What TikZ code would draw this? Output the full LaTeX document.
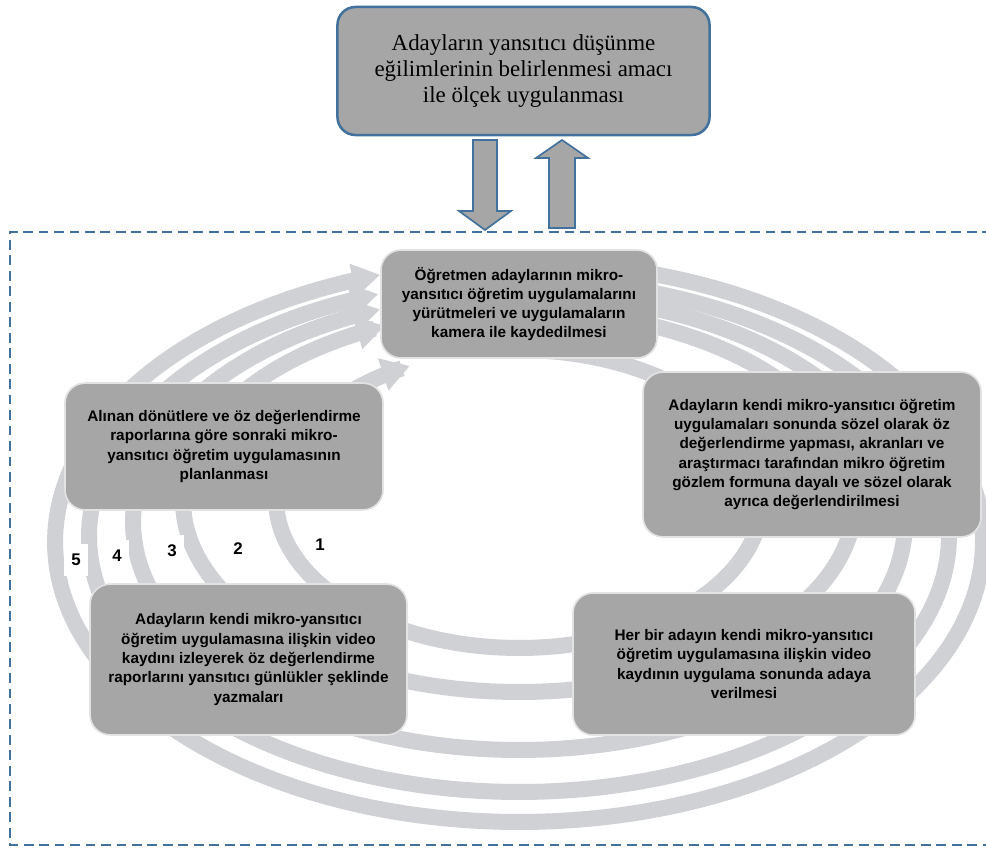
\documentclass[tikz,border=0pt]{standalone}
\usepackage{fontspec}
\setmainfont{Liberation Serif}
\newfontfamily\kutufont{Liberation Sans}
\usetikzlibrary{arrows.meta}
\definecolor{kutugri}{RGB}{166,166,166}
\definecolor{halka}{RGB}{208,209,213}
\definecolor{cerceve}{RGB}{65,113,156}
\definecolor{kenar}{RGB}{226,226,226}

\begin{document}
\begin{tikzpicture}[x=0.025cm, y=-0.025cm,
  adim/.style={draw=kenar, line width=1.2pt, fill=kutugri,
    rounded corners=0.5cm, align=center, inner sep=2pt,
    font=\kutufont\bfseries\fontsize{10.9}{13.7}\selectfont},
  halkaok/.style={draw=halka, line width=0.4cm,
    -{Triangle[length=0.7cm, width=0.8cm]}},
  sayi/.style={fill=white, inner xsep=5pt, inner ysep=7pt,
    font=\kutufont\bfseries\fontsize{12}{14}\selectfont},
  blokok/.style={draw=cerceve, line width=1.2pt, fill=kutugri}]
\useasboundingbox (0,0) rectangle (986,848);
% Dashed frame
\draw[cerceve, line width=1pt, dash pattern=on 7pt off 4pt]
  (992,232) -- (10,232) -- (10,845) -- (992,845);
% Rings: center x/y, radii, start/end angle
\foreach \cx/\cy/\rx/\ry/\s/\e in {519/542/464/280/285/612.6,
    519/536/430/256/285/610.9, 519/522/386/228/285/608.9,
    519/501/336/191/290/606.5, 519/499/243/149/275/603.3}
  \draw[halkaok] plot[domain=\s:\e, samples=160]
    ({\cx+\rx*cos(\x)}, {\cy+\ry*sin(\x)});
% Steps
\node[adim, minimum width=6.9cm, minimum height=2.7cm] (kayit) at (519,304)
  {Öğretmen adaylarının mikro-\\yansıtıcı öğretim uygulamalarını\\
   yürütmeleri ve uygulamaların\\kamera ile kaydedilmesi};
\node[adim, minimum width=8.45cm, minimum height=4.12cm] (degerlendirme) at (812,454.5)
  {Adayların kendi mikro-yansıtıcı öğretim\\uygulamaları sonunda sözel olarak öz\\
   değerlendirme yapması, akranları ve\\araştırmacı tarafından mikro öğretim\\
   gözlem formuna dayalı ve sözel olarak\\ayrıca değerlendirilmesi};
\node[adim, minimum width=8.55cm, minimum height=3.55cm] (video) at (744,664)
  {Her bir adayın kendi mikro-yansıtıcı\\öğretim uygulamasına ilişkin video\\
   kaydının uygulama sonunda adaya\\verilmesi};
\node[adim, minimum width=7.92cm, minimum height=3.77cm] (gunluk) at (248.5,659.5)
  {Adayların kendi mikro-yansıtıcı\\öğretim uygulamasına ilişkin video\\
   kaydını izleyerek öz değerlendirme\\raporlarını yansıtıcı günlükler şeklinde\\
   yazmaları};
\node[adim, minimum width=7.95cm, minimum height=3.17cm] (planlama) at (224,446.5)
  {Alınan dönütlere ve öz değerlendirme\\raporlarına göre sonraki mikro-\\
   yansıtıcı öğretim uygulamasının\\planlanması};
% Ring numbers
\node[sayi] (s1) at (320,545) {1};
\node[sayi] (s2) at (238,549) {2};
\node[sayi] (s3) at (172,551) {3};
\node[sayi] (s4) at (117,556) {4};
\node[sayi] (s5) at (76,560) {5};
% Scale box
\node[draw=cerceve, line width=1.8pt, fill=kutugri, rounded corners=0.45cm,
  minimum width=9.3cm, minimum height=3.2cm, align=center,
  font=\fontsize{16.3}{18.6}\selectfont] (olcek) at (523.5,71)
  {Adayların yansıtıcı düşünme\\eğilimlerinin belirlenmesi amacı\\ile ölçek uygulanması};
% Block arrows
\draw[blokok] (473,140) -- (497,140) -- (497,211) -- (511,211)
  -- (485,230) -- (459,211) -- (473,211) -- cycle;
\draw[blokok] (562,140) -- (588,158) -- (575,158) -- (575,228)
  -- (549,228) -- (549,158) -- (536,158) -- cycle;
\end{tikzpicture}
\end{document}
